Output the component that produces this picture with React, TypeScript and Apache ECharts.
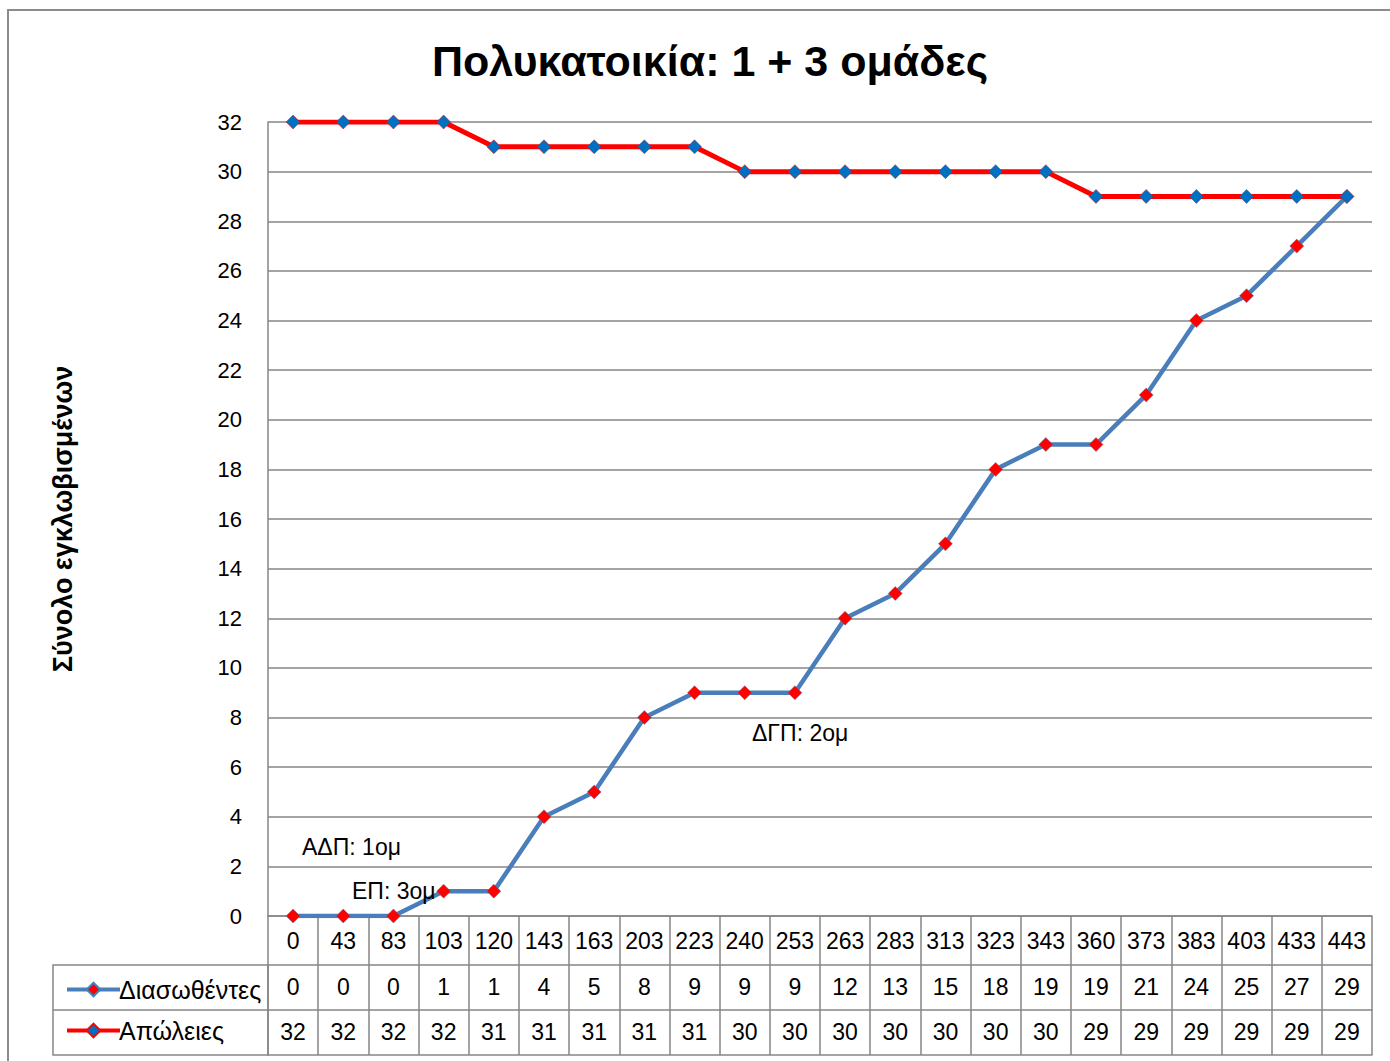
import React, { useEffect, useRef } from "react";
import * as echarts from "echarts";

const times = ["0", "43", "83", "103", "120", "143", "163", "203", "223", "240", "253", "263", "283", "313", "323", "343", "360", "373", "383", "403", "433", "443"];
const saved = [0, 0, 0, 1, 1, 4, 5, 8, 9, 9, 9, 12, 13, 15, 18, 19, 19, 21, 24, 25, 27, 29];
const losses = [32, 32, 32, 32, 31, 31, 31, 31, 31, 30, 30, 30, 30, 30, 30, 30, 29, 29, 29, 29, 29, 29];
const seriesNames = ["Διασωθέντες", "Απώλειες"];
const titleText = "Πολυκατοικία: 1 + 3 ομάδες";
const yTitle = "Σύνολο εγκλωβισμένων";
const notes = [
  { text: "ΑΔΠ: 1ομ", x: 302, y: 847 },
  { text: "ΕΠ: 3ομ", x: 352, y: 891 },
  { text: "ΔΓΠ: 2ομ", x: 752, y: 733 },
];

const FONT = "'Liberation Sans', Arial, sans-serif";
const GRAY = "#868686";
const ROW_OFFSETS = [0, 49, 94, 139];

export default function App() {
  const ref = useRef<HTMLDivElement>(null);
  useEffect(() => {
    const chart = echarts.init(ref.current!, null, { renderer: "svg" });
    const tableAxis = (rowIdx: number, values: number[] | null) => ({
      type: "category",
      data: times,
      position: "bottom",
      offset: ROW_OFFSETS[rowIdx],
      boundaryGap: true,
      axisLine: { show: true, lineStyle: { color: GRAY, width: 1.5 } },
      axisTick: rowIdx === 0
        ? { show: true, alignWithLabel: false, interval: 0, length: 139, lineStyle: { color: GRAY, width: 1.5 } }
        : { show: false },
      axisLabel: values === null && rowIdx === 3
        ? { show: false }
        : {
            show: true,
            interval: 0,
            margin: rowIdx === 0 ? 13 : 10,
            color: "#000",
            fontSize: 23,
            fontFamily: FONT,
            formatter: (v: string, i: number) => (values ? String(values[i]) : v),
          },
      splitLine: { show: false },
    });
    chart.setOption({
      animation: false,
      backgroundColor: "#fff",
      title: {
        text: titleText,
        left: 705,
        textAlign: "center",
        top: 34,
        textStyle: { fontSize: 43, fontWeight: "bold", fontFamily: FONT, color: "#000" },
      },
      grid: { left: 268, top: 122, right: 18, bottom: 145, containLabel: false },
      legend: {
        orient: "vertical",
        left: 60,
        top: 972,
        itemWidth: 53,
        itemHeight: 17,
        itemGap: 16,
        data: seriesNames,
        lineStyle: { width: 4 },
        textStyle: { fontSize: 25, fontFamily: FONT, color: "#000", padding: [0, 0, 0, -6] },
      },
      xAxis: [tableAxis(0, null), tableAxis(1, saved), tableAxis(2, losses), tableAxis(3, null)],
      yAxis: {
        type: "value",
        min: 0,
        max: 32,
        interval: 2,
        name: yTitle,
        nameLocation: "middle",
        nameRotate: 90,
        nameGap: 192,
        nameTextStyle: { fontSize: 27, fontWeight: "bold", fontFamily: FONT, color: "#000" },
        axisLine: { show: true, lineStyle: { color: GRAY, width: 1.5 } },
        axisTick: { show: false },
        axisLabel: { fontSize: 22, fontFamily: FONT, color: "#000", margin: 26 },
        splitLine: { show: true, lineStyle: { color: GRAY, width: 1.5 } },
      },
      series: [
        {
          name: seriesNames[0],
          type: "line",
          data: saved,
          symbol: "diamond",
          symbolSize: 14,
          lineStyle: { color: "#4A7EBB", width: 4.5 },
          itemStyle: { color: "#FF0000", borderColor: "#4A7EBB", borderWidth: 0.5 },
          z: 3,
        },
        {
          name: seriesNames[1],
          type: "line",
          data: losses,
          symbol: "diamond",
          symbolSize: 14,
          lineStyle: { color: "#FF0000", width: 5 },
          itemStyle: { color: "#0070C0", borderColor: "#FF0000", borderWidth: 0.5 },
          z: 4,
        },
      ],
      graphic: [
        {
          type: "rect",
          shape: { x: 8, y: 10, width: 1500, height: 1200 },
          style: { fill: "none", stroke: "#8c8c8c", lineWidth: 2 },
          silent: true,
        },
        {
          type: "rect",
          shape: { x: 53, y: 965, width: 215, height: 90 },
          style: { fill: "none", stroke: GRAY, lineWidth: 1.5 },
          silent: true,
        },
        {
          type: "line",
          shape: { x1: 53, y1: 1010, x2: 268, y2: 1010 },
          style: { stroke: GRAY, lineWidth: 1.5 },
          silent: true,
        },
        ...notes.map((n) => ({
          type: "text",
          x: n.x,
          y: n.y,
          style: { text: n.text, fontSize: 23, fontFamily: FONT, fill: "#000", textVerticalAlign: "middle" },
          silent: true,
          z: 10,
        })),
      ],
    });
    return () => chart.dispose();
  }, []);
  return <div ref={ref} style={{ position: "fixed", left: 0, top: 0, width: 1390, height: 1061 }} />;
}
